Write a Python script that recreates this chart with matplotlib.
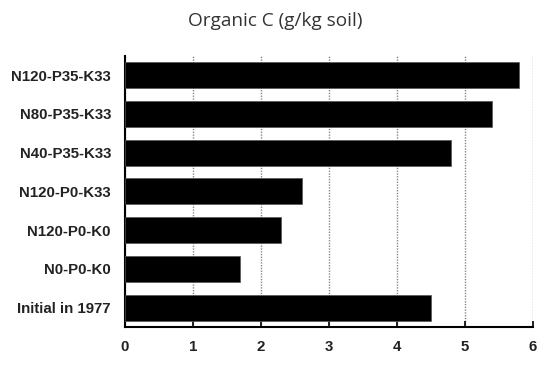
import matplotlib
matplotlib.use("Agg")
import matplotlib.pyplot as plt

treatments = ["N120-P35-K33", "N80-P35-K33", "N40-P35-K33", "N120-P0-K33",
              "N120-P0-K0", "N0-P0-K0", "Initial in 1977"]
organic_c = [5.8, 5.4, 4.8, 2.6, 2.3, 1.7, 4.5]

fig = plt.figure(figsize=(5.5, 3.65), dpi=100)
ax = fig.add_axes([0.227, 0.104, 0.742, 0.743])

ypos = list(range(len(treatments)))[::-1]
ax.barh(ypos, organic_c, height=0.67, color="black", edgecolor="#555555",
        linewidth=0.5, zorder=3)

ax.set_xlim(0, 6)
ax.set_ylim(-0.5, len(treatments) - 0.5)
ax.set_xticks(range(7))
ax.set_yticks(ypos)
ax.set_yticklabels(treatments)

for lab in ax.get_xticklabels() + ax.get_yticklabels():
    lab.set_fontfamily("Liberation Sans")
    lab.set_fontweight("bold")
    lab.set_fontsize(10.8)
    lab.set_color("#222222")

ax.tick_params(axis="x", direction="in", length=4, width=1.2, pad=9)
ax.tick_params(axis="y", length=0, pad=10)

ax.grid(axis="x", linestyle=(0, (1, 1)), color="#888888", linewidth=1, zorder=0)
ax.grid(axis="y", visible=False)

for side in ["top", "right"]:
    ax.spines[side].set_visible(False)
ax.spines["left"].set_linewidth(1.5)
ax.spines["bottom"].set_linewidth(1.5)

fig.text(0.5, 0.942, "Organic C (g/kg soil)", ha="center", va="center",
         fontsize=13.7, family="Open Sans", color="#333333")

fig.savefig("out.png", dpi=100)
